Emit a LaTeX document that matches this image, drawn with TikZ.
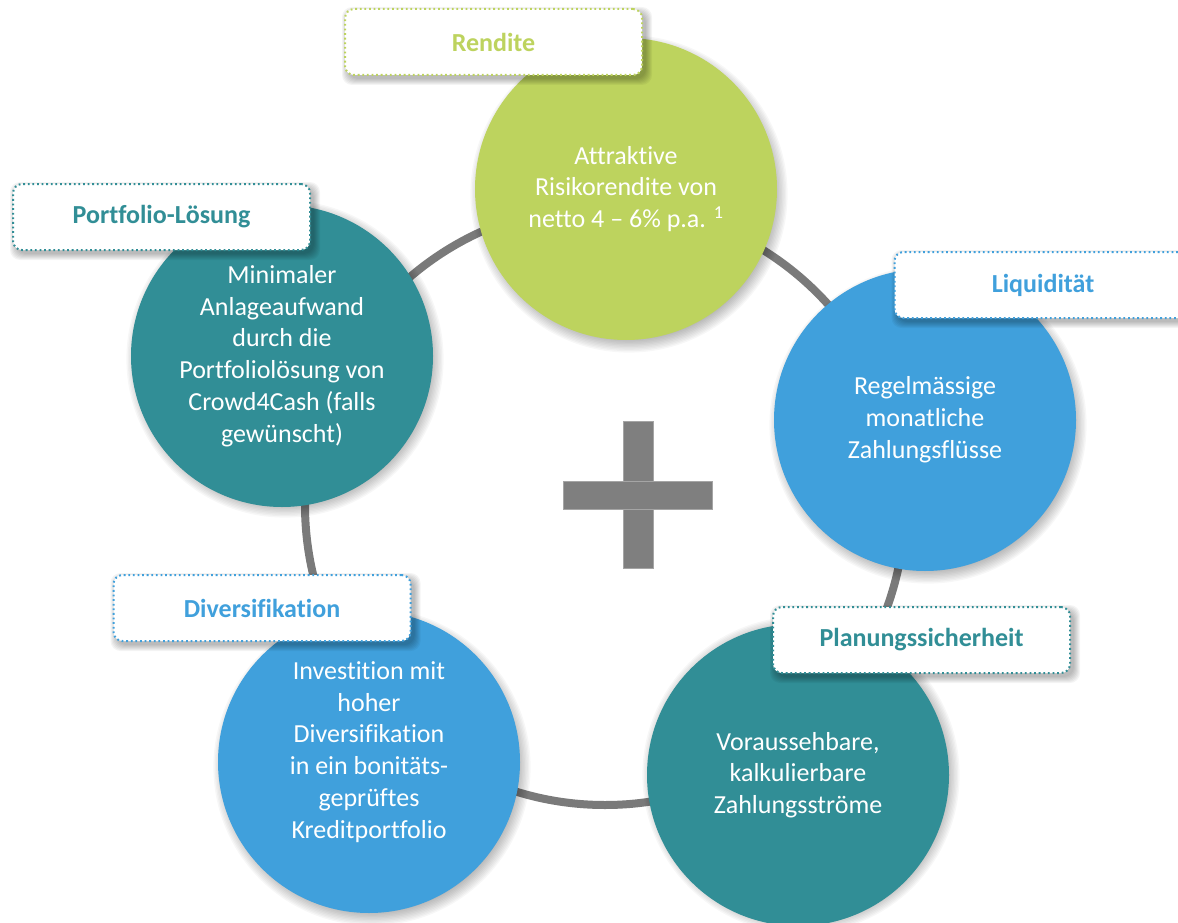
\documentclass[tikz,border=0pt]{standalone}
\usepackage{fontspec}
\setmainfont{Carlito}[Ligatures={TeX,NoCommon}]
\usetikzlibrary{calc}
\definecolor{cgreen}{RGB}{189,211,94}
\definecolor{cblue}{RGB}{64,160,220}
\definecolor{cteal}{RGB}{49,142,150}
\definecolor{cring}{RGB}{122,122,122}
\definecolor{cplus}{RGB}{127,127,127}
\tikzset{
  bubble/.style={circle, minimum size=302pt, inner sep=0pt, text=white, align=center,
    font=\fontsize{26}{31.8}\selectfont},
  tagbox/.style={rectangle, rounded corners=9pt, fill=white, line width=2pt,
    dash pattern=on 1.8pt off 2.8pt, minimum width=297pt, minimum height=66pt,
    inner sep=0pt, font=\fontsize{26}{30}\selectfont\bfseries},
  ringline/.style={draw=cring, line width=8pt},
  plusbar/.style={fill=cplus, draw=cplus!70!white, line width=0.8pt},
}
\newcommand\bubshadow[1]{\foreach \k in {0,...,9}{\fill[black,opacity=0.03] ($(#1)+(3,5)$) circle[radius=146pt+1.4pt*\k];}}
\newcommand\tagshadow[1]{\foreach \k in {0,...,6}{\fill[black,opacity=0.045,rounded corners=10pt] ($(#1)+(-145.5-\k,-29-\k)$) rectangle ($(#1)+(152.5+\k,37+\k)$);}}
\begin{document}
\begin{tikzpicture}[x=1pt,y=-1pt]
\useasboundingbox (0,0) rectangle (1178,923);
% centres
\coordinate (cR) at (626,189);
\coordinate (cL) at (925,420);
\coordinate (cP) at (798,770);
\coordinate (cD) at (369,762);
\coordinate (cF) at (282,354);
\coordinate (tR) at (493.5,42);
\coordinate (tL) at (1043,285);
\coordinate (tP) at (921.5,640);
\coordinate (tD) at (262,608);
\coordinate (tF) at (161.5,217);
% ring
\draw[ringline] (605,505) circle[radius=300pt];
% plus sign
\path[plusbar] (623,421) rectangle (653,568);
\path[plusbar] (563,481) rectangle (712,509);
\path[fill=cplus] (623.5,481.5) rectangle (652.5,508.5);
% circle shadows
\bubshadow{cR}\bubshadow{cL}\bubshadow{cP}\bubshadow{cD}\bubshadow{cF}
% circles
\node[bubble, fill=cgreen] (R) at (cR) {Attraktive\\Risikorendite von\\netto 4 -- 6\% p.a. \textsuperscript{1}};
\node[bubble, fill=cblue] (L) at (cL) {Regelmässige\\monatliche\\Zahlungsflüsse};
\node[bubble, fill=cteal] (P) at ($(cP)+(0,5)$) {Voraussehbare,\\kalkulierbare\\Zahlungsströme};
\node[bubble, fill=cblue] (D) at (cD) {};
\node[align=center, text=white, font=\fontsize{26}{31.8}\selectfont] (Dt) at (369,752) {Investition mit\\hoher\\Diversifikation\\in ein bonitäts-\\geprüftes\\Kreditportfolio};
\node[bubble, fill=cteal] (F) at ($(cF)+(0,2)$) {Minimaler\\Anlageaufwand\\durch die\\Portfoliolösung von\\Crowd4Cash (falls\\gewünscht)};
% tag shadows
\tagshadow{tR}\tagshadow{tL}\tagshadow{tP}\tagshadow{tD}\tagshadow{tF}
% tags
\node[tagbox, draw=cgreen, text=cgreen] (TR) at (tR) {Rendite};
\node[tagbox, draw=cblue, text=cblue] (TL) at (tL) {Liquidität};
\node[tagbox, draw=cteal, text=cteal] (TP) at (tP) {Planungssicherheit};
\node[tagbox, draw=cblue, text=cblue] (TD) at (tD) {Diversifikation};
\node[tagbox, draw=cteal, text=cteal] (TF) at (tF) {Portfolio-Lösung};
\end{tikzpicture}
\end{document}
